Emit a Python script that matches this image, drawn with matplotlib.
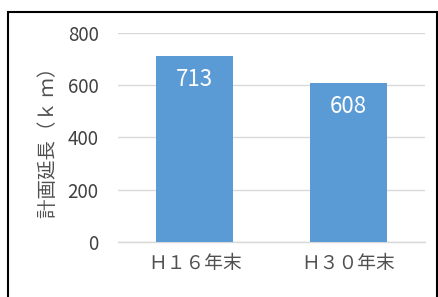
"""
計画延長の比較（棒グラフ）
"""
import matplotlib.pyplot as plt
from matplotlib.patches import Rectangle

plt.rcParams['font.family'] = ['Noto Sans CJK JP', 'DejaVu Sans']

# データ
categories = ['Ｈ１６年末', 'Ｈ３０年末']
values = [713, 608]
y_ticks = [0, 200, 400, 600, 800]

bar_color = '#5B9BD5'
text_gray = '#404040'
grid_gray = '#D9D9D9'

fig = plt.figure(figsize=(4.38, 2.97), dpi=100)
ax = fig.add_axes([0.2694, 0.1852, 0.7009, 0.7037])

x = range(len(categories))
bars = ax.bar(x, values, width=0.5, color=bar_color, zorder=3)

# 棒の中に値を表示
for rect, v in zip(bars, values):
    ax.annotate(str(v), (rect.get_x() + rect.get_width() / 2, v),
                xytext=(0, -17), textcoords='offset points', ha='center', va='center',
                color='white', fontsize=16, zorder=4)

ax.set_xlim(-0.5, len(categories) - 0.5)
ax.set_ylim(0, 800)
ax.set_yticks(y_ticks)
ax.set_yticklabels([str(t) for t in y_ticks], fontsize=13.5, color=text_gray)
ax.set_xticks(list(x))
ax.set_xticklabels(categories, fontsize=13.5, color='#505050')
ax.tick_params(axis='both', length=0)
ax.tick_params(axis='y', pad=14)
ax.tick_params(axis='x', pad=8)

ax.grid(axis='y', color=grid_gray, linewidth=1, zorder=0)
for side in ['top', 'right', 'left']:
    ax.spines[side].set_visible(False)
ax.spines['bottom'].set_color(grid_gray)
ax.spines['bottom'].set_linewidth(1)

ax.set_ylabel('計画延長（ｋ ｍ）', fontsize=14, color='#505050', labelpad=6)

# 外枠
fig.patches.append(Rectangle((0.018, -0.05), 0.979, 1.01, transform=fig.transFigure,
                             fill=False, edgecolor='black', linewidth=1.5))

plt.savefig('out.png', dpi=100)
plt.close()
